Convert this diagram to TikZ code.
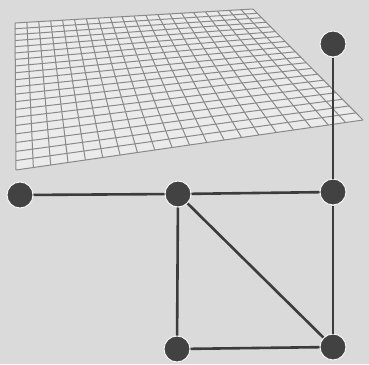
\documentclass[tikz,border=0pt]{standalone}
\usepackage{tikz}
\usetikzlibrary{calc}
\definecolor{bgpaper}{HTML}{DADADA}
\definecolor{gridline}{HTML}{8A8A8A}
\definecolor{dotgrey}{HTML}{424242}
\definecolor{edgegrey}{HTML}{3C3C3C}

\begin{document}
\begin{tikzpicture}[x=1pt,y=-1pt,
    dot/.style={circle,fill=dotgrey,draw=white!70!bgpaper,line width=1pt,minimum size=26pt,inner sep=0},
    link/.style={edgegrey,line width=2.6pt},
    mesh/.style={gridline,line width=1pt}]
    \fill[bgpaper] (0,0) rectangle (369,364);
    \useasboundingbox (0,0) rectangle (369,364);
    % the plane
    \coordinate (TL) at (15,23);
    \coordinate (TR) at (253,9);
    \coordinate (BR) at (363,120);
    \coordinate (BL) at (16,170);
    \fill[white!45!bgpaper] (TL)--(TR)--(BR)--(BL)--cycle;
    \foreach \i in {0,...,20}{
      \pgfmathsetmacro\t{\i/20}
      \pgfmathsetmacro\s{0.767*\t/(1-0.233*\t)}
      \draw[mesh] ($(TL)!\t!(TR)$)--($(BL)!\t!(BR)$);
      \draw[mesh] ($(TL)!\s!(BL)$)--($(TR)!\s!(BR)$);
    }
    % graph
    \node[dot] (left) at (20,195){};
    \node[dot] (mid) at (178,194){};
    \node[dot] (top) at (333,44){};
    \node[dot] (right) at (333,192){};
    \node[dot] (botl) at (177,349){};
    \node[dot] (botr) at (333,347){};
    \draw[link](left)--(mid);
    \draw[link](mid)--(right);
    \draw[link](top)--(right);
    \draw[link](mid)--(botl);
    \draw[link](mid)--(botr);
    \draw[link](botl)--(botr);
    \draw[link](right)--(botr);
  \end{tikzpicture}
\end{document}
